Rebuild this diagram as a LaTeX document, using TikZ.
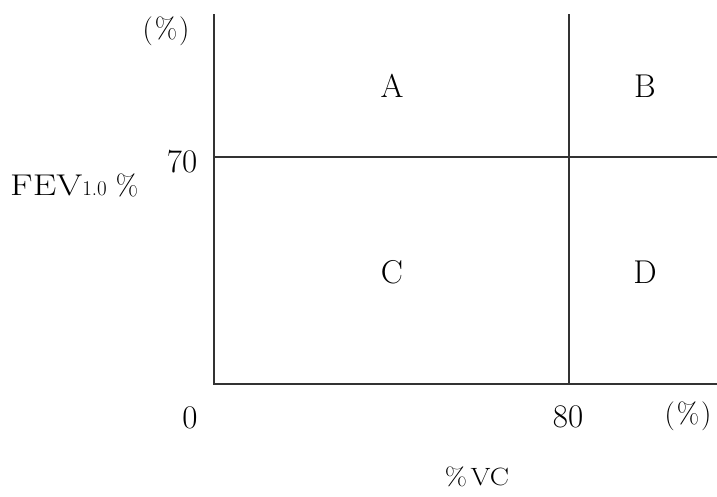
\documentclass[tikz,border=0pt]{standalone}
\usepackage{fontspec}
\usepackage{graphicx}
\begin{document}
\begin{tikzpicture}[x=1pt,y=-1pt,
  axisline/.style={line width=1.3pt,draw=black!80},
  big/.style={font=\fontsize{33}{40}\selectfont,inner sep=0pt,anchor=base},
  mid/.style={font=\fontsize{29}{34}\selectfont,inner sep=0pt,anchor=base},
  small/.style={font=\fontsize{25}{30}\selectfont,inner sep=0pt,anchor=base}]
\useasboundingbox (0,0) rectangle (717,496);
% frame coordinates
\coordinate (tl) at (214,14);
\coordinate (bl) at (214,384);
\coordinate (br) at (717,384);
\coordinate (tm) at (569,14);
\coordinate (bm) at (569,384);
\coordinate (ml) at (214,157);
\coordinate (mr) at (717,157);
\draw[axisline] (tl) -- (bl) -- (br);
\draw[axisline] (tm) -- (bm);
\draw[axisline] (ml) -- (mr);
% quadrant labels
\node[big] (A) at (392,97) {A};
\node[big] (B) at (645,97) {B};
\node[big] (C) at (392,283) {C};
\node[big] (D) at (645,283) {D};
% axis labels
\node[mid] (pcty) at (166,38) {(\hspace{2pt}\%\hspace{2pt})};
\node[big] (seventy) at (182,172) {70};
\node[font=\fontsize{30}{34}\selectfont,inner sep=0pt,anchor=base west] (fev) at (10,195)
  {\scalebox{1.25}[1]{FEV}{\fontsize{21}{24}\selectfont 1.0}\hspace{9pt}{\fontsize{29}{32}\selectfont\%}};
\node[big] (zero) at (190,428) {0};
\node[big] (eighty) at (568,427) {80};
\node[mid] (pctx) at (688,423) {(\hspace{2pt}\%\hspace{2pt})};
\node[small] (vc) at (477,485) {\scalebox{1.15}[1]{\%\hspace{3pt}VC}};
\end{tikzpicture}
\end{document}
